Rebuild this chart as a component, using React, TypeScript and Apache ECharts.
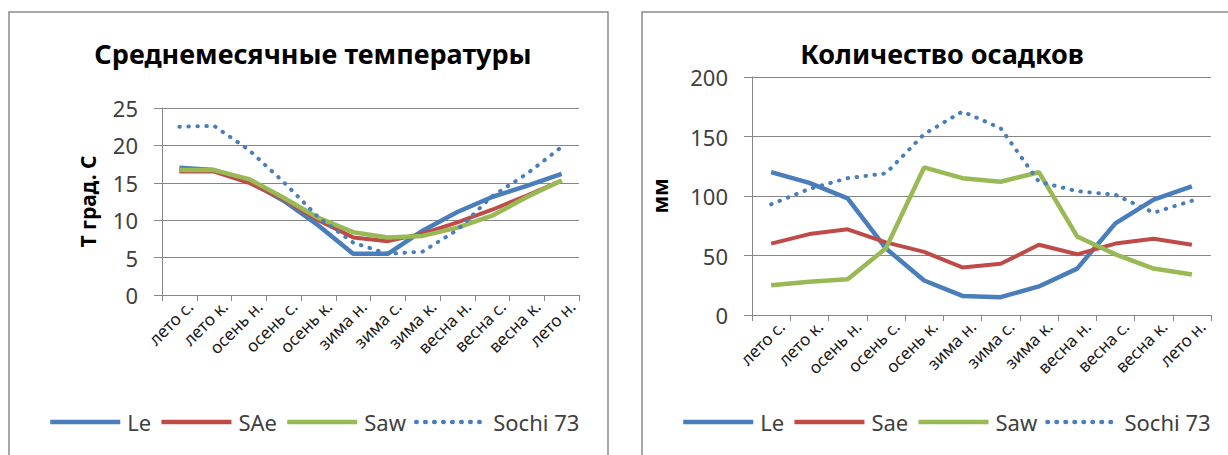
import React, { useEffect, useRef } from "react";
import * as echarts from "echarts";

// Seasonal stages shared by both panels
const categories = [
  "лето с.", "лето к.", "осень н.", "осень с.", "осень к.", "зима н.",
  "зима с.", "зима к.", "весна н.", "весна с.", "весна к.", "лето н.",
];

// Mean monthly temperature, °C
const tempLe = [17.0, 16.7, 15.2, 12.6, 9.3, 5.5, 5.5, 8.6, 11.1, 13.1, 14.6, 16.2];
const tempSAe = [16.5, 16.5, 15.0, 12.8, 10.0, 7.7, 7.2, 8.2, 9.7, 11.4, 13.3, 15.3];
const tempSaw = [16.7, 16.7, 15.5, 13.0, 10.3, 8.4, 7.7, 7.9, 9.0, 10.6, 13.1, 15.3];
const tempSochi = [22.5, 22.6, 19.4, 15.1, 10.4, 7.0, 5.5, 5.8, 8.7, 13.2, 16.2, 19.8];

// Precipitation, mm
const precLe = [120, 111, 98, 56, 29, 16, 15, 24, 39, 77, 97, 108];
const precSae = [60, 68, 72, 61, 53, 40, 43, 59, 51, 60, 64, 59];
const precSaw = [25, 28, 30, 56, 124, 115, 112, 120, 66, 51, 39, 34];
const precSochi = [93, 106, 115, 119, 152, 171, 157, 112, 104, 101, 86, 96];

const tempNames = ["Le", "SAe", "Saw", "Sochi 73"];
const precNames = ["Le", "Sae", "Saw", "Sochi 73"];

const BLUE = "#4a7ebb";
const RED = "#be4b48";
const GREEN = "#98b954";
const GRID = "#868686";
const FONT = "'Noto Sans', sans-serif";

function lineStyleFor(i: number) {
  if (i === 0) return { color: BLUE, width: 4.5 };
  if (i === 1) return { color: RED, width: 4 };
  if (i === 2) return { color: GREEN, width: 4.5 };
  return { color: BLUE, width: 4, type: [0.5, 8.5], cap: "round" };
}

function xAxisFor(gridIndex: number) {
  return {
    type: "category",
    gridIndex,
    data: categories,
    boundaryGap: true,
    axisLine: { show: true, lineStyle: { color: GRID, width: 1 } },
    axisTick: { show: true, length: 6, lineStyle: { color: GRID } },
    axisLabel: {
      interval: 0,
      rotate: 45,
      margin: 19,
      padding: [0, -15, 0, 0],
      fontFamily: FONT,
      fontSize: 17,
      color: "#1a1a1a",
    },
  };
}

function yAxisFor(gridIndex: number, max: number, interval: number, name: string, nameGap: number) {
  return {
    type: "value",
    gridIndex,
    min: 0,
    max,
    interval,
    name,
    nameLocation: "middle",
    nameGap,
    nameRotate: 90,
    nameTextStyle: { fontFamily: FONT, fontSize: 21, fontWeight: "bold", color: "#000" },
    axisLine: { show: true, lineStyle: { color: GRID, width: 1 } },
    axisTick: { show: true, length: 8, lineStyle: { color: GRID } },
    axisLabel: { margin: 24, fontFamily: FONT, fontSize: 22, color: "#404040" },
    splitLine: { show: true, lineStyle: { color: GRID, width: 1 } },
  };
}

function seriesFor(names: string[], data: number[][], axisIndex: number) {
  return names.map((name, i) => ({
    type: "line",
    name,
    xAxisIndex: axisIndex,
    yAxisIndex: axisIndex,
    data: data[i],
    symbol: "none",
    lineStyle: lineStyleFor(i),
    itemStyle: { color: i === 1 ? RED : i === 2 ? GREEN : BLUE },
  }));
}

function legendFor(names: string[], left: number) {
  return {
    data: names.map((n) => ({ name: n })),
    left,
    top: 406,
    orient: "horizontal",
    itemWidth: 70,
    itemHeight: 14,
    itemGap: 8,
    itemStyle: { opacity: 0 },
    lineStyle: { width: 4.5 },
    textStyle: { fontFamily: FONT, fontSize: 22, color: "#404040", padding: [0, 0, 0, 2] },
  };
}

export default function App() {
  const ref = useRef<HTMLDivElement>(null);

  useEffect(() => {
    if (!ref.current) return;
    const chart = echarts.init(ref.current, undefined, { renderer: "svg" });
    const tempSeries = seriesFor(tempNames, [tempLe, tempSAe, tempSaw, tempSochi], 0);
    const precSeries = seriesFor(precNames, [precLe, precSae, precSaw, precSochi], 1);
    chart.setOption({
      animation: false,
      backgroundColor: "#ffffff",
      graphic: [
        {
          type: "rect",
          shape: { x: 9, y: 12, width: 599, height: 470 },
          style: { fill: "#ffffff", stroke: "#8a8a8a", lineWidth: 1.5 },
          z: -10,
        },
        {
          type: "rect",
          shape: { x: 642, y: 12, width: 620, height: 470 },
          style: { fill: "#ffffff", stroke: "#8a8a8a", lineWidth: 1.5 },
          z: -10,
        },
      ],
      title: [
        {
          text: "Среднемесячные температуры",
          left: 308,
          top: 35,
          textAlign: "center",
          textStyle: { fontFamily: FONT, fontSize: 27, fontWeight: "bold", color: "#000" },
        },
        {
          text: "Количество осадков",
          left: 937,
          top: 35,
          textAlign: "center",
          textStyle: { fontFamily: FONT, fontSize: 27, fontWeight: "bold", color: "#000" },
        },
      ],
      legend: [legendFor(tempNames, 43), legendFor(precNames, 676)],
      grid: [
        { left: 162, right: 1228 - 579, top: 108, bottom: 455 - 295 },
        { left: 752, right: 1228 - 1211, top: 77, bottom: 455 - 315 },
      ],
      xAxis: [xAxisFor(0), xAxisFor(1)],
      yAxis: [
        yAxisFor(0, 25, 5, "Т град. С", 64),
        yAxisFor(1, 200, 50, "мм", 82),
      ],
      series: [...tempSeries, ...precSeries],
    });
    return () => chart.dispose();
  }, []);

  return (
    <div
      ref={ref}
      style={{ position: "absolute", left: 0, top: 0, width: 1228, height: 455 }}
    />
  );
}
